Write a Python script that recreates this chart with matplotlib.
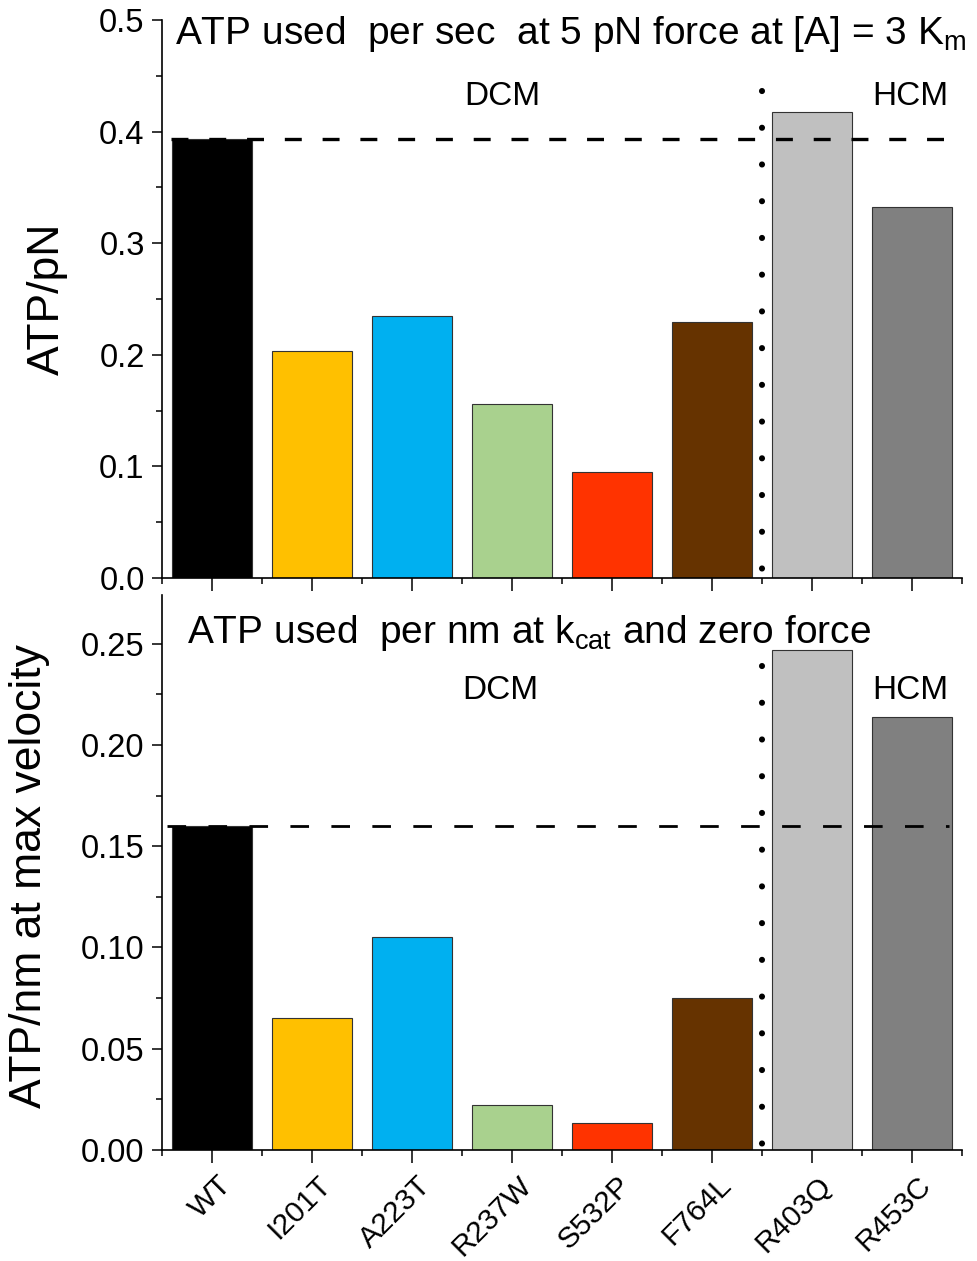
import matplotlib
matplotlib.use('Agg')
import matplotlib.pyplot as plt
import matplotlib.transforms as mtransforms
from matplotlib.ticker import MultipleLocator

plt.rcParams['font.family'] = 'Liberation Sans'
plt.rcParams['mathtext.fontset'] = 'custom'
plt.rcParams['mathtext.rm'] = 'Liberation Sans'
plt.rcParams['mathtext.it'] = 'Liberation Sans'

# data
mutants = ['WT', 'I201T', 'A223T', 'R237W', 'S532P', 'F764L', 'R403Q', 'R453C']
bar_colors = ['#000000', '#FFC000', '#00B0F0', '#A9D18E', '#FF3300', '#663300', '#C0C0C0', '#808080']
atp_per_pn = [0.393, 0.203, 0.235, 0.156, 0.095, 0.229, 0.418, 0.332]
atp_per_nm = [0.160, 0.065, 0.105, 0.022, 0.0135, 0.075, 0.247, 0.214]
wt_ref_pn = 0.393
wt_ref_nm = 0.160

x = list(range(len(mutants)))

fig = plt.figure(figsize=(9.78, 12.61), dpi=100)
ax1 = fig.add_axes([162/978, 1-578/1261, 800/978, 558/1261])
ax2 = fig.add_axes([162/978, 1-1150/1261, 800/978, 555/1261])


def style_axis(ax):
    for s in ['top', 'right']:
        ax.spines[s].set_visible(False)
    for s in ['left', 'bottom']:
        ax.spines[s].set_linewidth(1.2)
    ax.set_xlim(-0.5, 7.5)
    ax.set_xticks(x)
    ax.xaxis.set_minor_locator(MultipleLocator(1.0, offset=0.5))
    ax.tick_params(axis='both', which='major', direction='out', width=1.1, labelsize=23.5)
    ax.tick_params(axis='x', which='major', length=9)
    ax.tick_params(axis='x', which='minor', direction='out', length=4.5, width=1.1)
    ax.tick_params(axis='y', which='major', length=7.5, pad=5)
    ax.tick_params(axis='y', which='minor', direction='out', length=4.5, width=1.1)


# top panel
ax1.bar(x, atp_per_pn, width=0.8, color=bar_colors, edgecolor='#333333', linewidth=0.8, zorder=2)
style_axis(ax1)
ax1.set_ylim(0, 0.5)
ax1.yaxis.set_major_locator(MultipleLocator(0.1))
ax1.yaxis.set_minor_locator(MultipleLocator(0.05))
ax1.yaxis.set_major_formatter(lambda v, p: f'{v:.1f}')
ax1.set_xticklabels([])
ax1.hlines(wt_ref_pn, -0.41, 7.41, colors='k', linewidth=2.4,
           linestyles=(0, (12.2/2.4, 15/2.4)), zorder=3)
ax1.plot([5.5, 5.5], [0.436, 0], color='k', linewidth=4.4,
         linestyle=(0, (0.01, 26.4/4.4)), dash_capstyle='round', zorder=3, clip_on=False)
ax1.text(0.016, 0.957, r'ATP used  per sec  at 5 pN force at [A] = 3 K$\mathregular{_m}$',
         transform=ax1.transAxes, fontsize=28, va='baseline', ha='left')
ax1.text(2.9, 0.424, 'DCM', fontsize=24, ha='center', va='baseline')
ax1.text(6.98, 0.424, 'HCM', fontsize=24, ha='center', va='baseline')
ax1.set_ylabel('ATP/pN', fontsize=32)
ax1.yaxis.set_label_coords(-0.1175, 0.5)

# bottom panel
ax2.bar(x, atp_per_nm, width=0.8, color=bar_colors, edgecolor='#333333', linewidth=0.8, zorder=2)
style_axis(ax2)
ax2.set_ylim(0, 0.274)
ax2.yaxis.set_major_locator(MultipleLocator(0.05))
ax2.yaxis.set_minor_locator(MultipleLocator(0.025))
ax2.yaxis.set_major_formatter(lambda v, p: f'{v:.2f}')
ax2.set_xticklabels(mutants, rotation=45, ha='right', va='top', rotation_mode='anchor', fontsize=21.5)
ax2.tick_params(axis='x', which='major', pad=6)
shift = mtransforms.ScaledTranslation(5/100, 0, fig.dpi_scale_trans)
for lab in ax2.get_xticklabels():
    lab.set_transform(lab.get_transform() + shift)
ax2.hlines(wt_ref_nm, -0.45, 7.37, colors='k', linewidth=2.0,
           linestyles=(0, (13.4/2.0, 16.1/2.0)), zorder=3)
ax2.plot([5.5, 5.5], [0.239, 0], color='k', linewidth=4.4,
         linestyle=(0, (0.01, 26.4/4.4)), dash_capstyle='round', zorder=3, clip_on=False)
ax2.text(0.031, 0.913, r'ATP used  per nm at k$\mathregular{_{cat}}$ and zero force',
         transform=ax2.transAxes, fontsize=28, va='baseline', ha='left')
ax2.text(2.88, 0.2228, 'DCM', fontsize=24, ha='center', va='baseline')
ax2.text(6.98, 0.2228, 'HCM', fontsize=24, ha='center', va='baseline')
ax2.set_ylabel('ATP/nm at max velocity', fontsize=32)
ax2.yaxis.set_label_coords(-0.14, 0.494)

fig.savefig('out.png', dpi=100)
plt.close(fig)
